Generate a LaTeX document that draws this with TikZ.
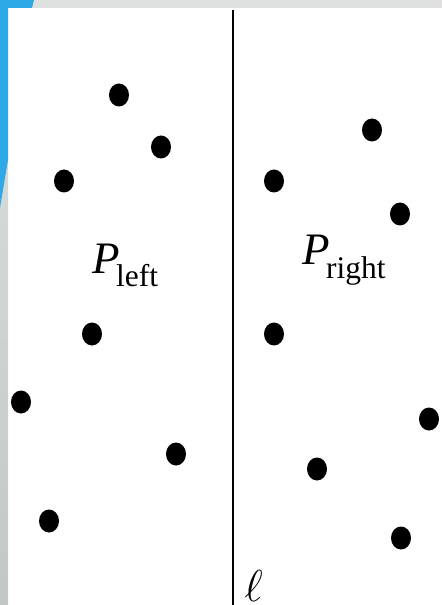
\documentclass[tikz,border=0pt]{standalone}
\usepackage{fontspec}
\setmainfont{Liberation Serif}
\usetikzlibrary{calc}
\definecolor{slideblue}{HTML}{2EA9E8}
\definecolor{slidegray}{HTML}{DFE1E0}
\definecolor{stripgray}{HTML}{C1C7C7}
\newcommand{\setname}[2]{{\itshape #1}\kern-0.08em\raisebox{-0.3em}{\fontsize{23.6pt}{24pt}\selectfont #2}}

\begin{document}
\begin{tikzpicture}[x=0.75pt, y=-0.75pt, font=\fontsize{33.75pt}{36pt}\selectfont]
\useasboundingbox (0,0) rectangle (442,605);
\clip (0,0) rectangle (442,605);
% slide frame
\fill[slidegray] (0,0) rectangle (442,8);
\shade[top color=slidegray!95!stripgray, bottom color=stripgray] (0,0) rectangle (8,605);
\fill[slideblue] (0,0) -- (34,0) -- (32,8) -- (8,8) -- (8,160) -- (0,208) -- cycle;
% dividing line
\coordinate (top) at (233,10);
\coordinate (bottom) at (233,605);
\draw[line width=1.5pt] (top) -- (bottom);
\node[anchor=base west, inner sep=0pt, scale=1.35] (ell) at (244,601) {$\ell$};
% points
\foreach \x/\y [count=\i] in {119/95, 161/147, 64/181, 92/334, 21/402, 176/454, 49/521,
    372/130, 274/181, 400/214, 274/334, 429/419, 317/469, 401/538} {
    \fill (\x,\y) ellipse (10 and 11.5);
    \coordinate (p\i) at (\x,\y);
}
\node[anchor=base west, inner sep=0pt] (pleft) at (92,273) {\setname{P}{left}};
\node[anchor=base west, inner sep=0pt] (pright) at (302,265) {\setname{P}{right}};
\end{tikzpicture}
\end{document}
